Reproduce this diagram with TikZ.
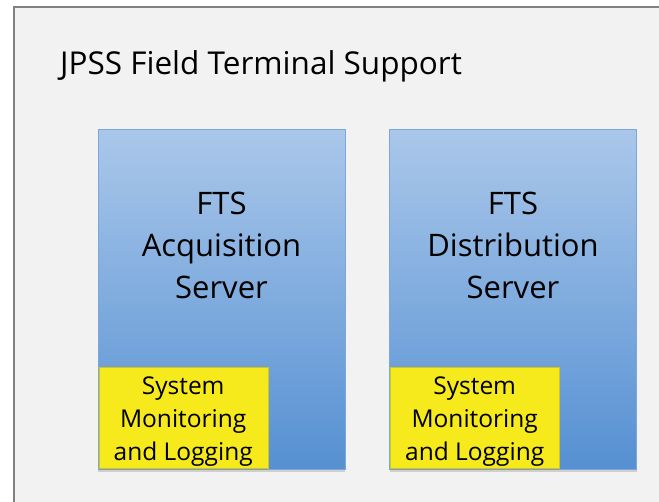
\documentclass[tikz,border=0pt]{standalone}
\usepackage{fontspec}
\setmainfont{Open Sans}
\usetikzlibrary{shadows}
\definecolor{framegray}{HTML}{808080}
\definecolor{panelgray}{HTML}{F2F2F2}
\definecolor{servertop}{HTML}{AAC7EA}
\definecolor{serverbot}{HTML}{5590D2}
\definecolor{serverline}{HTML}{7CA7DA}
\definecolor{monyellow}{HTML}{F6EA1C}
\tikzset{
  server/.style={draw=serverline, line width=1pt, top color=servertop, bottom color=serverbot,
    minimum width=247pt, minimum height=340pt, inner sep=0pt,
    drop shadow={shadow xshift=0pt, shadow yshift=-2pt, opacity=.3}},
  servertext/.style={align=center, anchor=north, inner sep=0pt, font=\fontsize{31}{42}\selectfont},
  monitor/.style={fill=monyellow, draw=monyellow!85!black, line width=.4pt,
    minimum width=169pt, minimum height=101pt, inner sep=0pt,
    drop shadow={shadow xshift=0pt, shadow yshift=-2pt, opacity=.3}},
  monitortext/.style={align=center, inner sep=0pt, yshift=-4pt, font=\fontsize{24.5}{33}\selectfont},
  title/.style={anchor=base west, inner sep=0pt, font=\fontsize{31.5}{36}\selectfont}
}
\newcommand{\ftsserver}[3]{%
 \node[server] ({#1}) at ({#2}) {};%
 \node[servertext] ({#1txt}) at ([yshift=-62pt]{#1}.north) {#3};%
 \node[monitor, anchor=south west, label={[monitortext]center:System\\Monitoring\\and Logging}] ({#1mon}) at ([xshift=1pt, yshift=2pt]{#1}.south west) {};%
}

\begin{document}
\begin{tikzpicture}[x=1pt, y=-1pt]
  \useasboundingbox (0,0) rectangle (659,502);
  \draw[framegray, line width=2pt, fill=panelgray] (14,7) rectangle (690,530);
  \node[title] (title) at (60,75) {JPSS Field Terminal Support};
  \ftsserver{acq}{221.5,300}{FTS\\Acquisition\\Server};
  \ftsserver{dist}{513,300}{FTS\\Distribution\\Server};
\end{tikzpicture}
\end{document}
